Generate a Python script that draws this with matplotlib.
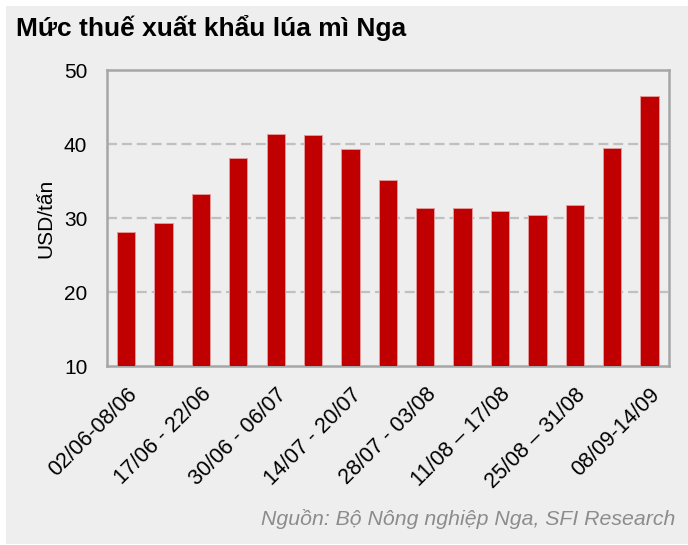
import matplotlib
matplotlib.use("Agg")
import matplotlib.pyplot as plt
from matplotlib.patches import Rectangle

categories = ["02/06-08/06", "09/06 - 16/06", "17/06 - 22/06", "23/06 - 29/06",
              "30/06 - 06/07", "07/07 - 13/07", "14/07 - 20/07", "21/07 - 27/07",
              "28/07 - 03/08", "04/08 - 10/08", "11/08 \u2013 17/08", "18/08 \u2013 24/08",
              "25/08 \u2013 31/08", "01/09 - 07/09", "08/09-14/09"]
values = [28.1, 29.3, 33.2, 38.1, 41.3, 41.2, 39.3, 35.1, 31.4, 31.4, 31.0, 30.4, 31.7, 39.4, 46.5]
yticks = [10, 20, 30, 40, 50]

plt.rcParams['font.family'] = ['Liberation Sans', 'DejaVu Sans']

fig = plt.figure(figsize=(6.88, 5.45), dpi=100, facecolor='white')
fig.patches.append(Rectangle((6/688, 1/545), 682/688, 538/545, transform=fig.transFigure,
                             facecolor='#eeeeee', edgecolor='none', zorder=-10))

ax = fig.add_axes([106.7/688, 1 - 366/545, (669 - 106.7)/688, (366 - 70)/545])
ax.set_facecolor('#eeeeee')
x = list(range(len(values)))
ax.bar(x, values, width=0.49, color='#c00000', edgecolor='#e39a9a', linewidth=0.7, zorder=3)
ax.set_xlim(-0.52, len(values) - 0.48)
ax.set_ylim(10, 50)
ax.set_yticks(yticks)
ax.set_yticklabels([str(v) for v in yticks], fontsize=15)
for v in [20, 30, 40]:
    ax.axhline(v, color='#c0c0c0', linestyle=(0, (4.5, 2.2)), linewidth=1.6, zorder=1)
ax.set_xticks(x[::2])
ax.set_xticklabels(categories[::2], rotation=45, ha='right', rotation_mode='anchor', fontsize=15.5)
ax.tick_params(axis='both', length=0)
ax.tick_params(axis='y', pad=14)
ax.tick_params(axis='x', pad=13)
for s in ax.spines.values():
    s.set_color('#a6a6a6')
    s.set_linewidth(1.8)
ax.set_ylabel('USD/t\u1ea5n', fontsize=15, labelpad=6)

fig.text(16/688, 1 - 36/545, 'M\u1ee9c thu\u1ebf xu\u1ea5t kh\u1ea9u l\u00faa m\u00ec Nga', fontsize=19,
         fontweight='bold', ha='left', va='baseline', color='black')
fig.text(675/688, 1 - 525/545, 'Ngu\u1ed3n: B\u1ed9 N\u00f4ng nghi\u1ec7p Nga, SFI Research', fontsize=15.3,
         style='italic', color='#8c8c8c', ha='right', va='baseline')

fig.savefig('out.png', dpi=100, facecolor='white')
